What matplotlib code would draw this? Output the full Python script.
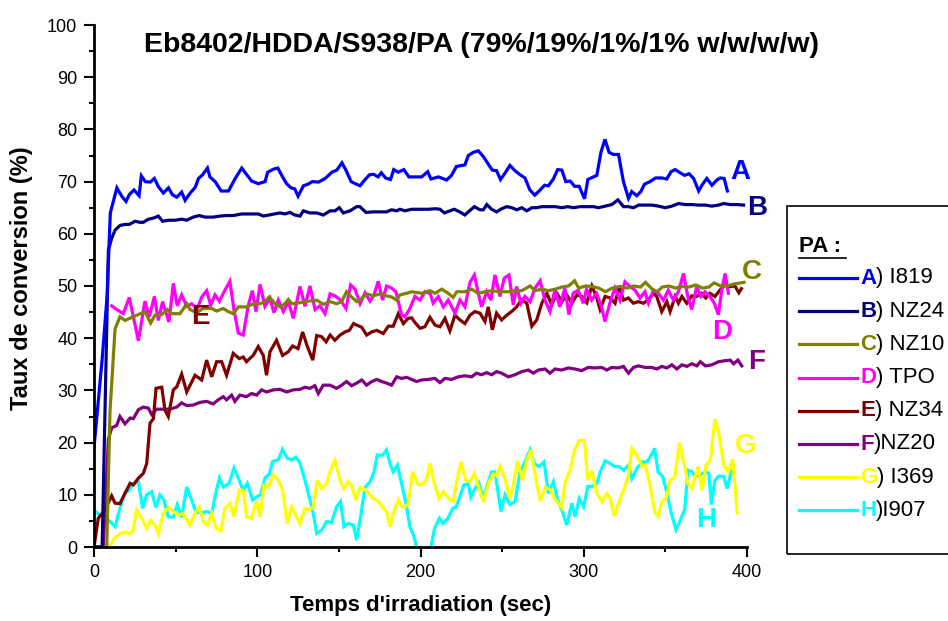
import matplotlib
matplotlib.use("Agg")
import matplotlib.pyplot as plt
from matplotlib.lines import Line2D
from matplotlib.patches import Rectangle
from matplotlib.ticker import MultipleLocator

plt.rcParams['font.family'] = ['Liberation Sans', 'DejaVu Sans']

# --- data (time in s, conversion in %) ---
tA = [0, 5, 8, 10, 14, 17, 19.6, 21.6, 24.5, 27.6,
      29, 31.4, 34.4, 37, 39.5, 42.5, 45.6, 48, 50.7, 53.7,
      55.8, 58.9, 62, 64, 66.5, 69.5, 71, 74.2, 77.9, 82.4,
      86.5, 90.5, 93.6, 96.6, 100.7, 104.8, 106.4, 110, 112.6, 115.5,
      118, 120.7, 123, 125, 128.3, 131, 133.8, 137.5, 141.6, 145.7,
      148.7, 151.9, 154.3, 157.5, 160, 163, 165, 168.7, 171.3, 174,
      176, 178.6, 181.6, 183.6, 186.3, 189.8, 192.9, 197, 200.7, 204.4,
      206.4, 211, 216, 219, 222, 227.2, 229.3, 232.3, 235.4, 238.5,
      241.6, 244, 246.6, 249, 251.7, 254.8, 257.8, 261.5, 264, 267,
      270, 273.3, 276, 278.4, 281.4, 284, 286.6, 289, 291.7, 294.4,
      297.2, 300.5, 302.5, 306, 308, 310.6, 313, 315.5, 318.2, 321.3,
      324.3, 327.4, 329.4, 332.5, 335, 337.2, 340.6, 344, 347.8, 350.8,
      353.5, 356, 359, 361.7, 364.5, 367.3, 370.4, 372.8, 375.4, 378.5,
      381.5, 383.6, 386, 388]
yA = [19, 36, 48, 64, 68.8, 67.2, 66.2, 67.5, 68.4, 67.3,
      71.1, 70, 69.9, 70.6, 69, 67.8, 68.8, 67.5, 67, 68,
      66.4, 67.8, 68.9, 70.6, 71.3, 72.6, 70.9, 70, 68.2, 68.2,
      70.6, 72.6, 71.3, 70.1, 69.6, 70, 71.8, 72.4, 72.6, 70.9,
      69.6, 68.8, 68.6, 67.2, 69.2, 69.5, 70, 69.9, 70.6, 71.8,
      72.2, 73.6, 72.2, 70, 69.6, 69.2, 70, 71.3, 71.4, 70.9,
      71.7, 70.7, 70.4, 72.3, 71.8, 72.3, 70.9, 70.9, 70.9, 71.9,
      70.5, 70.9, 70.3, 71.2, 72.9, 73.2, 75, 75.6, 75.9, 74.8,
      73.3, 72.2, 72.1, 70.4, 71.6, 73.1, 72.1, 71.2, 70.7, 68.4,
      67.4, 68.4, 69.3, 69.2, 70.5, 72.3, 72.2, 70, 70.1, 69.1,
      69.1, 66.7, 70.4, 70.9, 71.2, 75.7, 78.1, 75.6, 75.2, 75.2,
      70, 66.8, 68.1, 67.3, 68.1, 69.5, 70, 70.7, 70.7, 70.5,
      71.9, 72.3, 71.7, 71.2, 71.5, 70.6, 68.2, 69.5, 70.6, 69.3,
      70.3, 70.7, 70.6, 68.2]

tB = [0, 5, 8.8, 10.8, 12.9, 15.9, 19, 21.6, 25.1, 28.2,
      30.2, 33.3, 36.3, 39.4, 42, 45.5, 49.6, 53.7, 56.8, 60.8,
      64.5, 68, 73.1, 77.2, 81.3, 85.3, 90.4, 95.6, 100.7, 103.7,
      108.8, 113.9, 117, 120, 123, 126.2, 128.2, 132.3, 136.4, 140.5,
      144.6, 147.6, 150.3, 152.7, 156.8, 160.9, 162.9, 166.6, 171.1, 175.2,
      179.2, 182.3, 185.4, 187.4, 190.5, 194.6, 199.7, 205, 209, 212,
      214.6, 218, 220.7, 224, 227.2, 229.3, 233, 236.4, 238.5, 240.6,
      243.6, 246.6, 249.7, 252.8, 255.9, 259, 262, 265.1, 268.2, 271.2,
      274.3, 278.4, 282.5, 286.6, 290.2, 293.7, 297.8, 301.9, 306, 309,
      313.1, 317.2, 320.9, 324.4, 327.4, 330.5, 333.6, 337.7, 341.8, 345.8,
      349.9, 354, 358.1, 362.2, 366.3, 370.4, 374.5, 378.5, 382.6, 385.7,
      389.8, 393.9, 397.9]
yB = [0, 0, 56.9, 59.1, 60.7, 61.6, 61.8, 61.8, 62.4, 62.2,
      62.2, 62.8, 63, 63.4, 62.4, 62.6, 62.6, 62.8, 62.6, 63.2,
      63.5, 63.2, 63.2, 63.4, 63.5, 63.5, 63.8, 63.8, 63.8, 63.4,
      63.7, 64, 63.8, 64.1, 63.6, 63.4, 64.4, 64, 64, 63.6,
      64.4, 64.4, 65, 64, 64.4, 65.2, 65.2, 64.1, 64.2, 64.2,
      64.2, 64.6, 64.4, 64.7, 64.4, 64.7, 64.7, 64.7, 64.8, 64.7,
      64, 64.4, 64.7, 64.2, 63.6, 64.2, 65.2, 64.6, 64.6, 65.6,
      64.7, 64.2, 64.8, 65.2, 65, 64.6, 65, 64.4, 65, 65,
      65.2, 65.2, 65.2, 65, 65.2, 65, 65.2, 65.2, 65.2, 65,
      65.3, 65.6, 66.5, 65.2, 65.2, 65, 65.5, 65.5, 65.5, 65.3,
      65, 65.3, 65.8, 65.6, 65.6, 65.5, 65.5, 65.3, 65.5, 65.8,
      65.6, 65.6, 65.5]

tC = [0, 7.8, 9.8, 12.9, 15.9, 19, 24, 31.2, 34.7, 37.3,
      41.4, 44.9, 47.6, 52.7, 56.8, 58.8, 62.9, 67, 72.1, 75.1,
      79.2, 82.2, 85.3, 88.4, 93.5, 97.6, 101.7, 104.7, 107.4, 110.9,
      114, 117, 119, 121.2, 126.2, 131.3, 136.4, 140.5, 144.6, 148.6,
      151.7, 154.7, 157.8, 160.9, 164, 167, 171.1, 175.2, 179.2, 182.3,
      185.4, 187.4, 191.5, 194.6,
      200.7, 205.8, 208.9, 213, 217, 220, 222.2, 227.2, 231.3, 235.4,
      239.5, 243.6, 248.7, 253.8, 257.9, 262, 267.1, 270.2, 274.3, 278.4,
      282.5, 286.6, 290.7, 294.4, 296.9, 301, 305.1, 309.2, 313.3, 317.4,
      322.5, 326.6, 330.7, 334.8, 337.8, 341.9, 345, 348.1, 352.2, 356.3,
      360.4, 364.5, 368.6, 372.7, 376.7, 379.8, 383.9, 388, 392.1, 396.2,
      398.2]
yC = [0, 0, 26, 41.8, 44.1, 43.4, 44.1, 45.1, 42.9, 44.4,
      44.5, 45.5, 44.7, 44.7, 46.6, 45.5, 44.9, 45.7, 45.7, 45.2,
      45.7, 45.1, 44.7, 46, 46, 46.6, 46.6, 47, 47.9, 46.6,
      46, 46.6, 47.4, 46.6, 46.8, 47.1, 47.3, 46.5, 47, 46.6,
      47, 48.9, 47.9, 47, 47.6, 48.5, 48.1, 48.5, 48.1, 47.9,
      47.3, 48.3, 48.6, 48.9,
      48.6, 49.1, 48.6, 49.4, 48.6, 47.8, 48.9, 48.9, 49.4, 48.6,
      48.9, 49.1, 48.9, 48.9, 49.1, 49.1, 50, 49.1, 49.4, 49.1,
      49.4, 49.8, 50, 51, 49.6, 50, 49.9, 49.6, 48.9, 49.6,
      49.9, 49.6, 50, 49.8, 50.7, 49.4, 48.9, 49.8, 50, 49.6,
      49.9, 49.8, 50.2, 49.6, 49.8, 50.6, 50, 50, 50.4, 50.6,
      50.7]

tD = [10.8, 13.9, 18, 21.6, 27.2, 31.2, 33.9, 37, 39.4, 42,
      45.9, 48.6, 51, 53.7, 56.8, 59.8, 63.3, 66, 69, 71.5,
      74.1, 76.8, 80.2, 83.2, 85.7, 88.4, 91.4, 94.5, 97, 99.2,
      101.7, 104.7, 107.8, 110.2, 112.9, 116, 119, 122.1, 126.2, 129.2,
      132.3, 135.4, 138.4, 141.5, 144.6, 147.6, 150.7, 154.3, 157.2, 159.9,
      163, 166, 169.1, 171.5, 174.1, 176.8, 179.2, 182.3, 184.9, 188.4,
      190.5, 193.5,
      196.6, 199.7, 202.7, 205.8, 207.8, 210.9, 214, 217, 219.1, 221.1,
      224.2, 227.2, 230.3, 233, 235.4, 237.4, 240.5, 243.1, 245.6, 248.7,
      251.3, 254.2, 256.8, 258.9, 261.5, 264, 267.1, 270.2, 273.3, 276.2,
      279.3, 282.3, 285.4, 288.4, 290.9, 293.5, 296.6, 299.7, 301.7, 304.8,
      307.9, 310.9, 313, 316, 319.1, 322.2, 325.2, 328.3, 331.4, 334.5,
      337.5, 339.6, 342.7, 345.7, 348.8, 351.8, 354.9, 358, 361.1, 363.7,
      366.1, 369.2, 371.8, 374.3, 377.3, 380, 382.5, 384.5, 386.6, 388.6]
yD = [46.2, 45.5, 44.7, 47.8, 39.5, 47.1, 44.1, 48, 43.4, 47,
      43.1, 50.5, 46.2, 48.3, 46.1, 46.6, 45.7, 47.9, 49.1, 46.3,
      48.3, 47.1, 49.2, 50.9, 45.5, 41, 40.6, 46.3, 49.1, 45.1,
      50.3, 46.1, 47.6, 44.9, 47.3, 45.1, 47, 43.8, 49.9, 46.1,
      50, 45.5, 46.2, 44.7, 48.5, 48.1, 47.4, 45.7, 50.2, 49.4,
      46.6, 48.7, 47.1, 48.3, 50.9, 47.3, 50, 49.6, 48.9, 44.5,
      44.1, 45.7,
      48, 47.3, 48.9, 48.6, 46.7, 48, 46, 47.3, 46, 44.8,
      47.3, 46, 50.7, 52.1, 48.6, 46, 48.9, 47.3, 52.1, 48,
      51.5, 52.1, 46.4, 49.9, 46.7, 48, 47, 49.6, 51, 47.3,
      45.1, 49.2, 46, 49.6, 44.5, 48.6, 49.2, 46.7, 49.4, 47.3,
      48.6, 46, 43.2, 46.7, 49.6, 47.3, 50.8, 49.9, 49.2, 47.7,
      48.9, 46.7, 49.2, 48.6, 47.3, 49.2, 47.3, 48.9, 52.4, 48,
      45.5, 49.9, 48, 48.9, 48, 46.7, 44.5, 49.2, 52.4, 48.6]

tE = [0, 2.6, 6.7, 10.8, 12.9, 15.9, 19, 22.1, 24.1, 27.2,
      30.2, 32.3, 34.3, 36.4, 38, 41.5, 43.5, 45.5, 48.6, 50.7,
      53.7, 56.8, 59.8, 61.9, 66, 69, 72.1, 75.1, 78.2, 81.2,
      85.3, 89, 91.4, 93.4, 97.5, 100.6, 103.7, 105.7, 107.8, 111.8,
      115.5, 119, 121.6, 125, 127.8, 130.6, 134, 136.4, 139.4, 142.2,
      144.6, 147.6, 150.7, 153.8, 156.4, 159, 161, 164, 167, 170.1,
      173.2, 177.2, 180.3, 183.3, 186.4, 189.5, 192.5, 194.6,
      196.6, 199.7, 202.7, 205.8, 208.9, 211.9, 215, 218, 221.1, 224.2,
      227.2, 230.3, 233.3, 236.4, 239.5, 241.5, 244, 246.6, 249.7, 252.8,
      255.8, 258.9, 262, 265.1, 268.2, 271.2, 274.3, 277.4, 280.4, 283.5,
      286.6, 289.6, 292.7, 295.8, 298.8, 301.9, 305, 308, 310, 313.1,
      316.2, 319.2, 321.7, 324.3, 327.3, 330.4, 333.5, 336.6, 339.6, 342.7,
      344.7, 347.8, 350.9, 352.9, 356, 358, 360.1, 363.1, 366.1, 369.2,
      372.2, 374.7, 377.3, 380.4, 383.4, 386.5, 389.5, 392.6, 395, 396.6]
yE = [0, 5.5, 7.1, 9.8, 8.4, 8.3, 10.3, 12.2, 11.9, 13.2,
      14.1, 16, 23.7, 24.6, 30.4, 30.6, 26.2, 25, 30.1, 30.7,
      33.1, 29.7, 31.6, 32.9, 32, 35.8, 32.6, 35.5, 35.5, 32.9,
      37.1, 36.1, 36.4, 35.5, 36.7, 38.4, 36.7, 32.9, 37.4, 39.6,
      36.7, 37.4, 38.5, 38, 41.2, 38.5, 35.8, 40.5, 40.3, 39.3,
      40.6, 39.6, 40.6, 41.2, 41.5, 42.8, 42.5, 42.1, 40.6, 41.2,
      41.5, 40.9, 42.3, 42.3, 44.7, 42.8, 43.8, 43.9,
      43, 41.9, 42.2, 44, 42.5, 42.2, 43.8, 41.4, 44.4, 43.5,
      42.8, 44.4, 45.1, 44.8, 43.2, 46, 41.6, 44.8, 43.5, 44.4,
      45.1, 46, 47.4, 46.7, 42.3, 43.5, 46.7, 48.6, 46.4, 48.6,
      47, 48.3, 46.7, 48.3, 48, 46.8, 50, 47.7, 45.5, 48,
      47.7, 46.7, 50, 47.3, 47.7, 46.7, 47, 46.7, 47.4, 48.6,
      48, 45.1, 47, 45.1, 48, 46.7, 48, 46.7, 48.1, 48,
      48.6, 47.7, 48.6, 48, 49.2, 50.2, 49.9, 50, 48.7, 49.5]

tF = [0, 5.7, 8.8, 10.8, 13.9, 15.9, 19, 22.1, 24.1, 27.2,
      30.2, 33.3, 35.3, 38.4, 42.5, 46.5, 50.6, 53.7, 56.8, 60.8,
      64.9, 69, 73, 76.1, 79.2, 81.2, 84.3, 86.3, 89.4, 93.4,
      96.5, 99.6, 102.7, 105.7, 109.8, 113.9, 118, 122, 126.1, 129.2,
      132.2, 135.3, 137.4, 140.4, 144.6, 148.6, 151.7, 154.7, 157.8, 160.9,
      164, 167, 170.1, 173.2, 176.2, 179.2, 182.3, 185.4, 188.4, 191.5,
      194.6, 197.6, 200.7, 204.7, 208.8, 211.9, 215, 219, 223.1, 227.2,
      231.3, 234.3, 237.4, 240.5, 243.6, 246.6, 249.7, 253.8, 257.9, 262,
      266.1, 269.1, 272.2, 276.3, 279.3, 282.4, 286.5, 290.5, 294.6, 298.7,
      302.8, 306.9, 311, 314.1, 317.1, 321.2, 324.3, 327.4, 330.5, 333.5,
      337.6, 341.7, 344.8, 347.8, 350.9, 354, 357, 360.1, 363.2, 366.2,
      369.3, 371.4, 374.5, 378.5, 382.6, 386.7, 389.7, 391.8, 394.4, 396.8]
yF = [0, 0, 20.6, 22.8, 23.3, 25, 23.6, 24.7, 24.6, 26.3,
      26.8, 26.6, 25.4, 26.4, 26.4, 26.4, 26.8, 27.6, 27.1, 27.2,
      27.7, 27.9, 27.4, 28.2, 28.8, 28.2, 29.1, 27.9, 29.1, 28.8,
      29.4, 29.1, 30.1, 29.7, 30.1, 30.2, 29.7, 30.1, 30.2, 30.6,
      30.4, 30.9, 29.4, 31, 31, 30.4, 31, 31.7, 30.9, 31.4,
      32, 31, 31.7, 32.1, 31.7, 31.4, 31, 32.6, 32.3, 32.5,
      32.1, 31.7, 32, 32.1, 32.3, 31.5, 32.3, 32.1, 32.6, 32.8,
      32.6, 33.3, 33, 33.4, 33, 33.6, 33.3, 32.6, 33, 33.6,
      33.9, 33.3, 33.9, 34.1, 33.3, 34.1, 33.9, 34.3, 34.1, 33.8,
      34.4, 34.3, 34.4, 33.9, 34.4, 34.3, 34.6, 33.3, 34.4, 34.7,
      34.4, 34.4, 34.1, 34.6, 34.3, 34.9, 34.1, 34.9, 34.6, 35.1,
      34.7, 35.5, 34.7, 34.9, 35.5, 35.7, 35.8, 35.1, 35.8, 34.7]

tG = [6.7, 9.8, 12.9, 15.9, 19, 22.1, 24, 26.1, 29.2, 32.3,
      34.7, 37.3, 39.4, 42.5, 45.5, 48.6, 51.7, 54.7, 58.8, 61.9,
      64.5, 67, 69.4, 72.1, 74.7, 77.8, 80.2, 83.2, 85.7, 89,
      91.4, 93.5, 96.5, 99.6, 101.7, 104.1, 106.8, 109.8, 112.9, 115.5,
      118.4, 121.1, 123.1, 126.1, 129.2, 132.3, 134.3, 136.8, 139.4, 142.4,
      144.5, 147.6, 150.7, 153.1, 155.8, 157.8, 160.4, 162.9, 165, 168,
      171.1, 174.2, 177.2, 179.2, 181.3, 183.3, 186.4, 188.4, 190.5, 192.5,
      195.2, 198.7, 201.7, 203.8, 205.8, 208.5, 211.3, 214, 217, 220.1,
      222.1, 224.8, 227.7, 230.3, 233, 235.4, 238.5, 241.6, 244.6, 246.7,
      248.7, 251.4, 254.8, 256.9, 259.5, 262.4, 265.1, 267.7, 270.2, 273.3,
      276.3, 279.4, 282.5, 286.6, 288.6, 291.7, 294.3, 297.2, 300.4, 302.5,
      305, 308, 311.1, 314.2, 316.2, 318.7, 321.3, 324.4, 327.4, 329.5,
      332.6, 335.7, 337.7, 340.8, 343.4, 345.5, 348, 350.4, 353, 355.7,
      358.6, 361.2, 363.9, 366.3, 370, 372.5, 374.9, 377.6, 380.3, 382.7,
      385.8, 388.5, 391.3, 394]
yG = [0, 0.3, 1.8, 2.5, 2.9, 2.6, 3.2, 7.1, 5.5, 3.6,
      5.1, 4.2, 2.6, 6.4, 7.6, 6.8, 6.1, 6.4, 4.2, 6.4,
      7.7, 4.9, 4.2, 6.4, 3.6, 3.1, 7.4, 8.3, 5.8, 10.9,
      10.8, 5.8, 5.5, 8.7, 5.8, 11.8, 11.5, 13.8, 12.8, 10.9,
      4.5, 7.7, 6.4, 4.5, 7.4, 7.1, 7.7, 12.8, 11.2, 12.1,
      14.4, 16.6, 12.8, 11.2, 12.5, 11.8, 9, 11.4, 11.2, 10.4,
      9.3, 8.8, 7.4, 6.8, 3.9, 6.4, 9, 7.7, 7.7, 8.3,
      14.4, 11.9, 12.1, 13.1, 16, 12.2, 9.3, 10.6, 9.3, 8.8,
      12.5, 16.3, 12.8, 12.5, 14.1, 11.6, 8.7, 12.2, 14, 13.6,
      15.5, 13.5, 9.3, 11.9, 16.5, 12.8, 16.6, 18.6, 13.8, 8.8,
      11.4, 11, 9.1, 7.6, 12.5, 14.7, 18.6, 20.4, 20.4, 12.8,
      14.6, 10.3, 8.7, 10.2, 9.3, 5.9, 8.4, 10.9, 13.8, 18.9,
      17.6, 15.4, 15.7, 11.6, 6.8, 5.9, 8.7, 9.3, 12.8, 13.3,
      20, 16.3, 12.1, 11.2, 15.4, 10.9, 15.7, 16.7, 24.5, 21.8,
      15.7, 14.4, 16.8, 6.5]

tH = [0, 3.7, 5.7, 8.8, 12.9, 15.9, 19, 21.6, 24, 27.2,
      29.8, 32.2, 35.3, 37.9, 40.4, 42.8, 45.5, 48.6, 51, 53.7,
      56.8, 59.8, 62.5, 66, 69, 72.1, 74.1, 76.8, 79.2, 82.8,
      85.7, 88.4, 91.4, 93.9, 97.2, 99.6, 102, 104.7, 107.4, 109.4,
      112.9, 115.5, 118.4, 121.1, 123.7, 126.1, 129.2, 132.3, 134.7, 136.4,
      139.4, 142.4, 145.5, 148.6, 151, 153.1, 155.8, 158.8, 160.9, 163.3,
      166, 169.1, 171.5, 173.5, 176.8, 179.2, 181.3, 183.3, 185.8, 188.4,
      191.1, 193.5, 196, 200, 204, 208.6, 211.6, 213.7, 216.8, 219.8,
      221.9, 224, 226.6, 229.2, 230.8, 233.3, 235.6, 238.5, 240.6, 243.6,
      245.6, 249.3, 251.8, 254.8, 257.9, 261, 264, 267.1, 269.7, 272.6,
      275.7, 278.3, 281.4, 284, 286.6, 289.6, 292.7, 294.7, 297.2, 299.9,
      302.5, 305, 308, 310.1, 313.1, 316.2, 318.9, 321.7, 324.4, 327.4,
      329.5, 332.6, 335.7, 338.7, 340.8, 343.4, 345.5, 348.3, 351, 353.6,
      356.5, 359.2, 361.8, 363.9, 366.3, 368.4, 371.4, 374.5, 376.6, 378.2,
      380.3, 382.7, 385.8, 387.8, 390.5]
yH = [7, 6.1, 5.8, 5.2, 3.9, 7.4, 10.3, 10.9, 12.2, 12.5,
      7.4, 10, 10.6, 7.6, 10, 9, 5.8, 5.7, 8.1, 5.7,
      11.5, 9, 6.6, 6.6, 6.8, 6.4, 9.6, 13.2, 11.5, 12.2,
      15.1, 13.2, 10.9, 12.2, 9, 9.6, 10, 13.2, 14, 16.4,
      16.7, 18.7, 17, 16.7, 17.2, 16.1, 12.8, 9, 5.8, 2.6,
      3.2, 4.9, 4.7, 7.7, 8.7, 3.9, 4.5, 4.2, 1.3, 5.8,
      11.4, 12.5, 14.4, 17.6, 17.6, 18.6, 16, 14.4, 15.7, 12.2,
      8.3, 3.9, 2, -3, -4, 3.6, 5.5, 4.5, 5.5, 7.4,
      7.7, 9.6, 11.9, 12.1, 9.6, 11.2, 12.3, 9.3, 11.6, 14.4,
      14.4, 6.8, 10, 8.1, 8.7, 14.4, 16.3, 18.6, 16, 15.4,
      16.3, 10.3, 12.5, 9, 7.1, 4.2, 8.4, 5.8, 9.3, 7.7,
      11.6, 11.6, 12.1, 14.4, 16.5, 16, 15.4, 15.4, 14.7, 15.7,
      13.1, 15.1, 16.3, 16.3, 17.3, 18.9, 14.4, 13.5, 10.3, 6.5,
      3.3, 5.2, 7.1, 14.7, 14.4, 13.5, 13.8, 14.4, 14.1, 8.1,
      12.7, 13.6, 13.5, 11.2, 14.7]

letters = ['A', 'B', 'C', 'D', 'E', 'F', 'G', 'H']
names = [') I819', ') NZ24', ') NZ10', ') TPO', ') NZ34', ')NZ20', ') I369', ')I907']
colors = ['#0000ff', '#000080', '#808000', '#ff00ff', '#800000', '#800080', '#ffff00', '#00ffff']
series = [(tA, yA), (tB, yB), (tC, yC), (tD, yD), (tE, yE), (tF, yF), (tG, yG), (tH, yH)]
# in-plot letter tags (time, conversion)
tag_pos = [(396, 71.8), (406, 65), (403, 52.7), (385, 41.2), (65, 44), (406, 35.4), (399, 19.3), (375, 5.2)]

fig = plt.figure(figsize=(9.48, 6.21), dpi=100)
ax = fig.add_axes([94 / 948, 1 - 547 / 621, (747 - 94) / 948, (547 - 25) / 621])

# draw H first so the upper curves sit on top
for i in [7, 6, 5, 4, 3, 2, 1, 0]:
    t, y = series[i]
    ax.plot(t, y, color=colors[i], linewidth=2.3, solid_joinstyle='miter')

for (tx, ty), lt, c in zip(tag_pos, letters, colors):
    ax.text(tx, ty, lt, color=c, fontsize=20, fontweight='bold',
            ha='center', va='center', clip_on=False)

ax.set_xlim(0, 400)
ax.set_ylim(0, 100)
ax.xaxis.set_major_locator(MultipleLocator(100))
ax.xaxis.set_minor_locator(MultipleLocator(50))
ax.yaxis.set_major_locator(MultipleLocator(10))
ax.yaxis.set_minor_locator(MultipleLocator(5))
ax.tick_params(which='major', direction='out', length=7, width=1.5, labelsize=13, pad=5)
ax.tick_params(which='minor', direction='out', length=3.6, width=1.5)
for side in ['top', 'right']:
    ax.spines[side].set_visible(False)
for side in ['left', 'bottom']:
    ax.spines[side].set_linewidth(2)

ax.set_xlabel("Temps d'irradiation (sec)", fontsize=16, fontweight='bold')
ax.xaxis.set_label_coords(0.5, -(606 - 547) / 522)
ax.set_ylabel("Taux de conversion (%)", fontsize=17, fontweight='bold')
ax.yaxis.set_label_coords(-(94 - 22) / 653, (547 - 278) / 522)
ax.xaxis.label.set_va('center')
ax.yaxis.label.set_va('center')
fig.text(482 / 948, 1 - 45 / 621, "Eb8402/HDDA/S938/PA (79%/19%/1%/1% w/w/w/w)",
         fontsize=20.5, fontweight='bold', ha='center', va='center')

# legend box on the right, cut by the figure edge
fig.patches.append(Rectangle((787 / 948, 1 - 554 / 621), 200 / 948, (554 - 206) / 621,
                             transform=fig.transFigure, fill=False, edgecolor='black',
                             linewidth=1.2))
fig.text(799 / 948, 1 - 246 / 621, "PA :", fontsize=16, fontweight='bold',
         ha='left', va='center')
fig.add_artist(Line2D([799 / 948, 846 / 948], [1 - 258 / 621, 1 - 258 / 621],
                      transform=fig.transFigure, color='black', linewidth=1.2))
for k, (lt, nm, c) in enumerate(zip(letters, names, colors)):
    yy = 1 - (278 + 33.2 * k) / 621
    fig.add_artist(Line2D([799 / 948, 857 / 948], [yy, yy], transform=fig.transFigure,
                          color=c, linewidth=2.3))
    lab = fig.text(860 / 948, yy, lt, color=c, fontsize=16, fontweight='bold',
                   ha='left', va='center')
    plt.annotate(nm, xy=(1, 0.5), xycoords=lab, fontsize=16, ha='left', va='center',
                 annotation_clip=False)

fig.savefig('out.png', dpi=100)
